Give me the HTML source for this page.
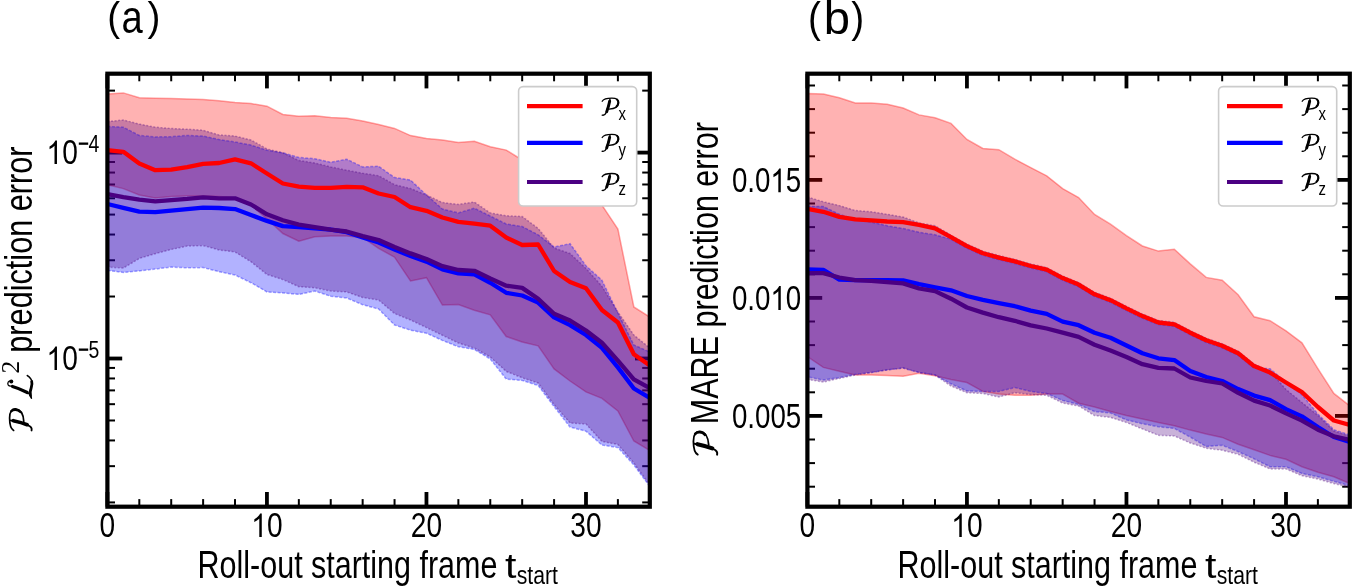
<!DOCTYPE html>
<html><head><meta charset="utf-8"><title>figure</title>
<style>
html,body{margin:0;padding:0;background:#fff;overflow:hidden;}
svg{display:block;will-change:transform;}
text{font-family:"Liberation Sans",sans-serif;fill:#000;font-kerning:none;}
</style></head><body>
<svg width="1352" height="586" viewBox="0 0 1352 586">
<defs>
<clipPath id="ca"><rect x="107.4" y="73.7" width="542.4" height="433.0"/></clipPath>
<clipPath id="cb"><rect x="807.4" y="73.7" width="542.4" height="433.0"/></clipPath>
</defs>
<rect width="1352" height="586" fill="#fff"/>
<line x1="107.40" y1="506.7" x2="107.40" y2="492.00" stroke="#000" stroke-width="3.8"/>
<line x1="107.40" y1="73.7" x2="107.40" y2="88.40" stroke="#000" stroke-width="3.8"/>
<line x1="139.31" y1="506.7" x2="139.31" y2="499.10" stroke="#000" stroke-width="2"/>
<line x1="139.31" y1="73.7" x2="139.31" y2="81.30" stroke="#000" stroke-width="2"/>
<line x1="171.21" y1="506.7" x2="171.21" y2="499.10" stroke="#000" stroke-width="2"/>
<line x1="171.21" y1="73.7" x2="171.21" y2="81.30" stroke="#000" stroke-width="2"/>
<line x1="203.12" y1="506.7" x2="203.12" y2="499.10" stroke="#000" stroke-width="2"/>
<line x1="203.12" y1="73.7" x2="203.12" y2="81.30" stroke="#000" stroke-width="2"/>
<line x1="235.02" y1="506.7" x2="235.02" y2="499.10" stroke="#000" stroke-width="2"/>
<line x1="235.02" y1="73.7" x2="235.02" y2="81.30" stroke="#000" stroke-width="2"/>
<line x1="266.93" y1="506.7" x2="266.93" y2="492.00" stroke="#000" stroke-width="3.8"/>
<line x1="266.93" y1="73.7" x2="266.93" y2="88.40" stroke="#000" stroke-width="3.8"/>
<line x1="298.84" y1="506.7" x2="298.84" y2="499.10" stroke="#000" stroke-width="2"/>
<line x1="298.84" y1="73.7" x2="298.84" y2="81.30" stroke="#000" stroke-width="2"/>
<line x1="330.74" y1="506.7" x2="330.74" y2="499.10" stroke="#000" stroke-width="2"/>
<line x1="330.74" y1="73.7" x2="330.74" y2="81.30" stroke="#000" stroke-width="2"/>
<line x1="362.65" y1="506.7" x2="362.65" y2="499.10" stroke="#000" stroke-width="2"/>
<line x1="362.65" y1="73.7" x2="362.65" y2="81.30" stroke="#000" stroke-width="2"/>
<line x1="394.55" y1="506.7" x2="394.55" y2="499.10" stroke="#000" stroke-width="2"/>
<line x1="394.55" y1="73.7" x2="394.55" y2="81.30" stroke="#000" stroke-width="2"/>
<line x1="426.46" y1="506.7" x2="426.46" y2="492.00" stroke="#000" stroke-width="3.8"/>
<line x1="426.46" y1="73.7" x2="426.46" y2="88.40" stroke="#000" stroke-width="3.8"/>
<line x1="458.36" y1="506.7" x2="458.36" y2="499.10" stroke="#000" stroke-width="2"/>
<line x1="458.36" y1="73.7" x2="458.36" y2="81.30" stroke="#000" stroke-width="2"/>
<line x1="490.27" y1="506.7" x2="490.27" y2="499.10" stroke="#000" stroke-width="2"/>
<line x1="490.27" y1="73.7" x2="490.27" y2="81.30" stroke="#000" stroke-width="2"/>
<line x1="522.18" y1="506.7" x2="522.18" y2="499.10" stroke="#000" stroke-width="2"/>
<line x1="522.18" y1="73.7" x2="522.18" y2="81.30" stroke="#000" stroke-width="2"/>
<line x1="554.08" y1="506.7" x2="554.08" y2="499.10" stroke="#000" stroke-width="2"/>
<line x1="554.08" y1="73.7" x2="554.08" y2="81.30" stroke="#000" stroke-width="2"/>
<line x1="585.99" y1="506.7" x2="585.99" y2="492.00" stroke="#000" stroke-width="3.8"/>
<line x1="585.99" y1="73.7" x2="585.99" y2="88.40" stroke="#000" stroke-width="3.8"/>
<line x1="617.89" y1="506.7" x2="617.89" y2="499.10" stroke="#000" stroke-width="2"/>
<line x1="617.89" y1="73.7" x2="617.89" y2="81.30" stroke="#000" stroke-width="2"/>
<line x1="649.80" y1="506.7" x2="649.80" y2="499.10" stroke="#000" stroke-width="2"/>
<line x1="649.80" y1="73.7" x2="649.80" y2="81.30" stroke="#000" stroke-width="2"/>
<line x1="107.4" y1="152.60" x2="122.20" y2="152.60" stroke="#000" stroke-width="3.8"/>
<line x1="649.8" y1="152.60" x2="635.00" y2="152.60" stroke="#000" stroke-width="3.8"/>
<line x1="107.4" y1="358.50" x2="122.20" y2="358.50" stroke="#000" stroke-width="3.8"/>
<line x1="649.8" y1="358.50" x2="635.00" y2="358.50" stroke="#000" stroke-width="3.8"/>
<line x1="107.4" y1="502.42" x2="115.00" y2="502.42" stroke="#000" stroke-width="2"/>
<line x1="649.8" y1="502.42" x2="642.20" y2="502.42" stroke="#000" stroke-width="2"/>
<line x1="107.4" y1="466.16" x2="115.00" y2="466.16" stroke="#000" stroke-width="2"/>
<line x1="649.8" y1="466.16" x2="642.20" y2="466.16" stroke="#000" stroke-width="2"/>
<line x1="107.4" y1="440.44" x2="115.00" y2="440.44" stroke="#000" stroke-width="2"/>
<line x1="649.8" y1="440.44" x2="642.20" y2="440.44" stroke="#000" stroke-width="2"/>
<line x1="107.4" y1="420.48" x2="115.00" y2="420.48" stroke="#000" stroke-width="2"/>
<line x1="649.8" y1="420.48" x2="642.20" y2="420.48" stroke="#000" stroke-width="2"/>
<line x1="107.4" y1="404.18" x2="115.00" y2="404.18" stroke="#000" stroke-width="2"/>
<line x1="649.8" y1="404.18" x2="642.20" y2="404.18" stroke="#000" stroke-width="2"/>
<line x1="107.4" y1="390.39" x2="115.00" y2="390.39" stroke="#000" stroke-width="2"/>
<line x1="649.8" y1="390.39" x2="642.20" y2="390.39" stroke="#000" stroke-width="2"/>
<line x1="107.4" y1="378.45" x2="115.00" y2="378.45" stroke="#000" stroke-width="2"/>
<line x1="649.8" y1="378.45" x2="642.20" y2="378.45" stroke="#000" stroke-width="2"/>
<line x1="107.4" y1="367.92" x2="115.00" y2="367.92" stroke="#000" stroke-width="2"/>
<line x1="649.8" y1="367.92" x2="642.20" y2="367.92" stroke="#000" stroke-width="2"/>
<line x1="107.4" y1="296.52" x2="115.00" y2="296.52" stroke="#000" stroke-width="2"/>
<line x1="649.8" y1="296.52" x2="642.20" y2="296.52" stroke="#000" stroke-width="2"/>
<line x1="107.4" y1="260.26" x2="115.00" y2="260.26" stroke="#000" stroke-width="2"/>
<line x1="649.8" y1="260.26" x2="642.20" y2="260.26" stroke="#000" stroke-width="2"/>
<line x1="107.4" y1="234.54" x2="115.00" y2="234.54" stroke="#000" stroke-width="2"/>
<line x1="649.8" y1="234.54" x2="642.20" y2="234.54" stroke="#000" stroke-width="2"/>
<line x1="107.4" y1="214.58" x2="115.00" y2="214.58" stroke="#000" stroke-width="2"/>
<line x1="649.8" y1="214.58" x2="642.20" y2="214.58" stroke="#000" stroke-width="2"/>
<line x1="107.4" y1="198.28" x2="115.00" y2="198.28" stroke="#000" stroke-width="2"/>
<line x1="649.8" y1="198.28" x2="642.20" y2="198.28" stroke="#000" stroke-width="2"/>
<line x1="107.4" y1="184.49" x2="115.00" y2="184.49" stroke="#000" stroke-width="2"/>
<line x1="649.8" y1="184.49" x2="642.20" y2="184.49" stroke="#000" stroke-width="2"/>
<line x1="107.4" y1="172.55" x2="115.00" y2="172.55" stroke="#000" stroke-width="2"/>
<line x1="649.8" y1="172.55" x2="642.20" y2="172.55" stroke="#000" stroke-width="2"/>
<line x1="107.4" y1="162.02" x2="115.00" y2="162.02" stroke="#000" stroke-width="2"/>
<line x1="649.8" y1="162.02" x2="642.20" y2="162.02" stroke="#000" stroke-width="2"/>
<line x1="107.4" y1="90.62" x2="115.00" y2="90.62" stroke="#000" stroke-width="2"/>
<line x1="649.8" y1="90.62" x2="642.20" y2="90.62" stroke="#000" stroke-width="2"/>
<g clip-path="url(#ca)">
<path d="M107.40,93.90 L123.35,92.90 L139.31,97.80 L155.26,98.30 L171.21,98.50 L187.16,99.00 L203.12,99.50 L219.07,100.80 L235.02,102.40 L250.98,103.60 L266.93,106.20 L282.88,114.40 L298.84,116.20 L314.79,115.70 L330.74,117.50 L346.69,118.20 L362.65,121.00 L378.60,124.60 L394.55,128.40 L410.51,135.60 L426.46,138.60 L442.41,139.90 L458.36,142.50 L474.32,141.20 L490.27,146.80 L506.22,150.10 L522.18,160.00 L538.13,170.00 L554.08,180.00 L570.04,190.00 L585.99,198.00 L601.94,205.00 L617.89,229.00 L633.85,307.00 L649.80,317.00 L649.80,450.50 L633.85,441.00 L617.89,411.00 L601.94,398.30 L585.99,391.90 L570.04,381.00 L554.08,368.90 L538.13,345.80 L522.18,342.00 L506.22,336.50 L490.27,314.80 L474.32,310.20 L458.36,304.60 L442.41,305.10 L426.46,277.70 L410.51,281.00 L394.55,257.20 L378.60,248.30 L362.65,237.40 L346.69,236.00 L330.74,236.10 L314.79,236.80 L298.84,241.20 L282.88,233.50 L266.93,219.00 L250.98,205.00 L235.02,197.70 L219.07,196.50 L203.12,196.00 L187.16,196.00 L171.21,196.50 L155.26,198.00 L139.31,195.00 L123.35,188.60 L107.40,184.80Z" fill="#ff0000" fill-opacity="0.3" stroke="none"/><path d="M107.40,93.90 L123.35,92.90 L139.31,97.80 L155.26,98.30 L171.21,98.50 L187.16,99.00 L203.12,99.50 L219.07,100.80 L235.02,102.40 L250.98,103.60 L266.93,106.20 L282.88,114.40 L298.84,116.20 L314.79,115.70 L330.74,117.50 L346.69,118.20 L362.65,121.00 L378.60,124.60 L394.55,128.40 L410.51,135.60 L426.46,138.60 L442.41,139.90 L458.36,142.50 L474.32,141.20 L490.27,146.80 L506.22,150.10 L522.18,160.00 L538.13,170.00 L554.08,180.00 L570.04,190.00 L585.99,198.00 L601.94,205.00 L617.89,229.00 L633.85,307.00 L649.80,317.00 L649.80,450.50 L633.85,441.00 L617.89,411.00 L601.94,398.30 L585.99,391.90 L570.04,381.00 L554.08,368.90 L538.13,345.80 L522.18,342.00 L506.22,336.50 L490.27,314.80 L474.32,310.20 L458.36,304.60 L442.41,305.10 L426.46,277.70 L410.51,281.00 L394.55,257.20 L378.60,248.30 L362.65,237.40 L346.69,236.00 L330.74,236.10 L314.79,236.80 L298.84,241.20 L282.88,233.50 L266.93,219.00 L250.98,205.00 L235.02,197.70 L219.07,196.50 L203.12,196.00 L187.16,196.00 L171.21,196.50 L155.26,198.00 L139.31,195.00 L123.35,188.60 L107.40,184.80Z" fill="none" stroke="#ff0000" stroke-opacity="0.34" stroke-width="1.5"/>
<path d="M107.40,126.40 L123.35,127.20 L139.31,135.40 L155.26,136.90 L171.21,136.70 L187.16,135.40 L203.12,136.10 L219.07,139.50 L235.02,142.00 L250.98,145.10 L266.93,150.20 L282.88,152.80 L298.84,157.40 L314.79,158.70 L330.74,162.30 L346.69,159.20 L362.65,166.90 L378.60,166.30 L394.55,177.50 L410.51,180.10 L426.46,195.00 L442.41,209.00 L458.36,212.90 L474.32,208.20 L490.27,216.00 L506.22,224.00 L522.18,226.50 L538.13,234.80 L554.08,247.00 L570.04,243.70 L585.99,265.80 L601.94,280.30 L617.89,313.00 L633.85,345.00 L649.80,352.00 L649.80,486.50 L633.85,465.00 L617.89,447.60 L601.94,445.10 L585.99,431.20 L570.04,427.10 L554.08,406.60 L538.13,385.50 L522.18,380.40 L506.22,379.10 L490.27,359.00 L474.32,349.40 L458.36,346.80 L442.41,340.40 L426.46,333.20 L410.51,330.20 L394.55,325.00 L378.60,309.00 L362.65,304.70 L346.69,298.00 L330.74,296.20 L314.79,291.10 L298.84,294.40 L282.88,292.90 L266.93,291.90 L250.98,282.70 L235.02,275.00 L219.07,271.70 L203.12,267.60 L187.16,267.80 L171.21,267.10 L155.26,269.10 L139.31,270.90 L123.35,272.40 L107.40,270.40Z" fill="#0000ff" fill-opacity="0.3" stroke="none"/><path d="M107.40,126.40 L123.35,127.20 L139.31,135.40 L155.26,136.90 L171.21,136.70 L187.16,135.40 L203.12,136.10 L219.07,139.50 L235.02,142.00 L250.98,145.10 L266.93,150.20 L282.88,152.80 L298.84,157.40 L314.79,158.70 L330.74,162.30 L346.69,159.20 L362.65,166.90 L378.60,166.30 L394.55,177.50 L410.51,180.10 L426.46,195.00 L442.41,209.00 L458.36,212.90 L474.32,208.20 L490.27,216.00 L506.22,224.00 L522.18,226.50 L538.13,234.80 L554.08,247.00 L570.04,243.70 L585.99,265.80 L601.94,280.30 L617.89,313.00 L633.85,345.00 L649.80,352.00 L649.80,486.50 L633.85,465.00 L617.89,447.60 L601.94,445.10 L585.99,431.20 L570.04,427.10 L554.08,406.60 L538.13,385.50 L522.18,380.40 L506.22,379.10 L490.27,359.00 L474.32,349.40 L458.36,346.80 L442.41,340.40 L426.46,333.20 L410.51,330.20 L394.55,325.00 L378.60,309.00 L362.65,304.70 L346.69,298.00 L330.74,296.20 L314.79,291.10 L298.84,294.40 L282.88,292.90 L266.93,291.90 L250.98,282.70 L235.02,275.00 L219.07,271.70 L203.12,267.60 L187.16,267.80 L171.21,267.10 L155.26,269.10 L139.31,270.90 L123.35,272.40 L107.40,270.40Z" fill="none" stroke="#0000ff" stroke-opacity="0.34" stroke-width="1.5" stroke-dasharray="3,1.5"/>
<path d="M107.40,121.60 L123.35,120.00 L139.31,124.10 L155.26,127.20 L171.21,128.50 L187.16,129.20 L203.12,130.30 L219.07,134.90 L235.02,136.10 L250.98,140.00 L266.93,149.00 L282.88,152.80 L298.84,160.50 L314.79,163.00 L330.74,166.90 L346.69,170.20 L362.65,173.30 L378.60,175.70 L394.55,184.70 L410.51,188.50 L426.46,195.00 L442.41,202.60 L458.36,204.40 L474.32,202.10 L490.27,212.90 L506.22,215.80 L522.18,216.50 L538.13,228.40 L554.08,248.00 L570.04,253.50 L585.99,268.40 L601.94,286.30 L617.89,312.00 L633.85,335.00 L649.80,348.00 L649.80,485.00 L633.85,463.00 L617.89,444.50 L601.94,441.40 L585.99,424.00 L570.04,423.00 L554.08,404.60 L538.13,383.00 L522.18,377.80 L506.22,371.40 L490.27,357.00 L474.32,348.10 L458.36,343.00 L442.41,335.30 L426.46,327.60 L410.51,320.00 L394.55,313.50 L378.60,300.00 L362.65,297.50 L346.69,291.90 L330.74,291.10 L314.79,287.80 L298.84,286.70 L282.88,279.60 L266.93,274.50 L250.98,261.70 L235.02,252.00 L219.07,249.90 L203.12,245.60 L187.16,246.10 L171.21,249.40 L155.26,253.70 L139.31,258.40 L123.35,268.10 L107.40,267.10Z" fill="#4b0082" fill-opacity="0.3" stroke="none"/><path d="M107.40,121.60 L123.35,120.00 L139.31,124.10 L155.26,127.20 L171.21,128.50 L187.16,129.20 L203.12,130.30 L219.07,134.90 L235.02,136.10 L250.98,140.00 L266.93,149.00 L282.88,152.80 L298.84,160.50 L314.79,163.00 L330.74,166.90 L346.69,170.20 L362.65,173.30 L378.60,175.70 L394.55,184.70 L410.51,188.50 L426.46,195.00 L442.41,202.60 L458.36,204.40 L474.32,202.10 L490.27,212.90 L506.22,215.80 L522.18,216.50 L538.13,228.40 L554.08,248.00 L570.04,253.50 L585.99,268.40 L601.94,286.30 L617.89,312.00 L633.85,335.00 L649.80,348.00 L649.80,485.00 L633.85,463.00 L617.89,444.50 L601.94,441.40 L585.99,424.00 L570.04,423.00 L554.08,404.60 L538.13,383.00 L522.18,377.80 L506.22,371.40 L490.27,357.00 L474.32,348.10 L458.36,343.00 L442.41,335.30 L426.46,327.60 L410.51,320.00 L394.55,313.50 L378.60,300.00 L362.65,297.50 L346.69,291.90 L330.74,291.10 L314.79,287.80 L298.84,286.70 L282.88,279.60 L266.93,274.50 L250.98,261.70 L235.02,252.00 L219.07,249.90 L203.12,245.60 L187.16,246.10 L171.21,249.40 L155.26,253.70 L139.31,258.40 L123.35,268.10 L107.40,267.10Z" fill="none" stroke="#4b0082" stroke-opacity="0.34" stroke-width="1.5" stroke-dasharray="2,1.6"/>
<polyline points="107.40,150.20 123.35,151.80 139.31,163.50 155.26,170.20 171.21,169.70 187.16,167.10 203.12,163.80 219.07,163.00 235.02,159.40 250.98,163.30 266.93,173.50 282.88,183.50 298.84,186.60 314.79,187.80 330.74,187.80 346.69,186.80 362.65,187.30 378.60,193.50 394.55,197.00 410.51,207.20 426.46,210.80 442.41,217.50 458.36,221.80 474.32,223.60 490.27,225.70 506.22,237.50 522.18,245.00 538.13,244.50 554.08,271.00 570.04,282.00 585.99,288.30 601.94,310.00 617.89,322.50 633.85,354.30 649.80,365.50" fill="none" stroke="#ff0000" stroke-width="4.3" stroke-linejoin="round" stroke-linecap="butt"/>
<polyline points="107.40,204.00 123.35,207.80 139.31,211.70 155.26,212.20 171.21,210.60 187.16,209.10 203.12,207.60 219.07,208.00 235.02,209.10 250.98,215.00 266.93,220.90 282.88,226.10 298.84,227.10 314.79,228.40 330.74,229.70 346.69,232.20 362.65,237.40 378.60,242.50 394.55,249.60 410.51,256.00 426.46,261.60 442.41,269.30 458.36,273.40 474.32,274.40 490.27,282.80 506.22,292.80 522.18,295.50 538.13,302.60 554.08,317.30 570.04,325.10 585.99,335.00 601.94,347.80 617.89,367.40 633.85,388.50 649.80,398.00" fill="none" stroke="#0000ff" stroke-width="4.3" stroke-linejoin="round" stroke-linecap="butt"/>
<polyline points="107.40,194.20 123.35,197.10 139.31,199.60 155.26,201.40 171.21,200.10 187.16,198.90 203.12,197.30 219.07,198.30 235.02,198.30 250.98,204.50 266.93,214.30 282.88,220.20 298.84,224.60 314.79,227.10 330.74,229.70 346.69,231.50 362.65,236.10 378.60,240.00 394.55,247.00 410.51,253.40 426.46,259.00 442.41,266.20 458.36,270.00 474.32,270.80 490.27,278.50 506.22,285.70 522.18,287.90 538.13,298.80 554.08,313.80 570.04,320.50 585.99,330.50 601.94,342.70 617.89,360.60 633.85,379.40 649.80,388.00" fill="none" stroke="#4b0082" stroke-width="4.3" stroke-linejoin="round" stroke-linecap="butt"/>
</g>
<rect x="107.4" y="73.7" width="542.4" height="433.0" fill="none" stroke="#000" stroke-width="4.2" stroke-linejoin="miter"/>
<line x1="807.40" y1="506.7" x2="807.40" y2="492.00" stroke="#000" stroke-width="3.8"/>
<line x1="807.40" y1="73.7" x2="807.40" y2="88.40" stroke="#000" stroke-width="3.8"/>
<line x1="839.31" y1="506.7" x2="839.31" y2="499.10" stroke="#000" stroke-width="2"/>
<line x1="839.31" y1="73.7" x2="839.31" y2="81.30" stroke="#000" stroke-width="2"/>
<line x1="871.21" y1="506.7" x2="871.21" y2="499.10" stroke="#000" stroke-width="2"/>
<line x1="871.21" y1="73.7" x2="871.21" y2="81.30" stroke="#000" stroke-width="2"/>
<line x1="903.12" y1="506.7" x2="903.12" y2="499.10" stroke="#000" stroke-width="2"/>
<line x1="903.12" y1="73.7" x2="903.12" y2="81.30" stroke="#000" stroke-width="2"/>
<line x1="935.02" y1="506.7" x2="935.02" y2="499.10" stroke="#000" stroke-width="2"/>
<line x1="935.02" y1="73.7" x2="935.02" y2="81.30" stroke="#000" stroke-width="2"/>
<line x1="966.93" y1="506.7" x2="966.93" y2="492.00" stroke="#000" stroke-width="3.8"/>
<line x1="966.93" y1="73.7" x2="966.93" y2="88.40" stroke="#000" stroke-width="3.8"/>
<line x1="998.84" y1="506.7" x2="998.84" y2="499.10" stroke="#000" stroke-width="2"/>
<line x1="998.84" y1="73.7" x2="998.84" y2="81.30" stroke="#000" stroke-width="2"/>
<line x1="1030.74" y1="506.7" x2="1030.74" y2="499.10" stroke="#000" stroke-width="2"/>
<line x1="1030.74" y1="73.7" x2="1030.74" y2="81.30" stroke="#000" stroke-width="2"/>
<line x1="1062.65" y1="506.7" x2="1062.65" y2="499.10" stroke="#000" stroke-width="2"/>
<line x1="1062.65" y1="73.7" x2="1062.65" y2="81.30" stroke="#000" stroke-width="2"/>
<line x1="1094.55" y1="506.7" x2="1094.55" y2="499.10" stroke="#000" stroke-width="2"/>
<line x1="1094.55" y1="73.7" x2="1094.55" y2="81.30" stroke="#000" stroke-width="2"/>
<line x1="1126.46" y1="506.7" x2="1126.46" y2="492.00" stroke="#000" stroke-width="3.8"/>
<line x1="1126.46" y1="73.7" x2="1126.46" y2="88.40" stroke="#000" stroke-width="3.8"/>
<line x1="1158.36" y1="506.7" x2="1158.36" y2="499.10" stroke="#000" stroke-width="2"/>
<line x1="1158.36" y1="73.7" x2="1158.36" y2="81.30" stroke="#000" stroke-width="2"/>
<line x1="1190.27" y1="506.7" x2="1190.27" y2="499.10" stroke="#000" stroke-width="2"/>
<line x1="1190.27" y1="73.7" x2="1190.27" y2="81.30" stroke="#000" stroke-width="2"/>
<line x1="1222.18" y1="506.7" x2="1222.18" y2="499.10" stroke="#000" stroke-width="2"/>
<line x1="1222.18" y1="73.7" x2="1222.18" y2="81.30" stroke="#000" stroke-width="2"/>
<line x1="1254.08" y1="506.7" x2="1254.08" y2="499.10" stroke="#000" stroke-width="2"/>
<line x1="1254.08" y1="73.7" x2="1254.08" y2="81.30" stroke="#000" stroke-width="2"/>
<line x1="1285.99" y1="506.7" x2="1285.99" y2="492.00" stroke="#000" stroke-width="3.8"/>
<line x1="1285.99" y1="73.7" x2="1285.99" y2="88.40" stroke="#000" stroke-width="3.8"/>
<line x1="1317.89" y1="506.7" x2="1317.89" y2="499.10" stroke="#000" stroke-width="2"/>
<line x1="1317.89" y1="73.7" x2="1317.89" y2="81.30" stroke="#000" stroke-width="2"/>
<line x1="1349.80" y1="506.7" x2="1349.80" y2="499.10" stroke="#000" stroke-width="2"/>
<line x1="1349.80" y1="73.7" x2="1349.80" y2="81.30" stroke="#000" stroke-width="2"/>
<line x1="807.4" y1="415.90" x2="822.20" y2="415.90" stroke="#000" stroke-width="3.8"/>
<line x1="1349.8" y1="415.90" x2="1335.00" y2="415.90" stroke="#000" stroke-width="3.8"/>
<line x1="807.4" y1="297.90" x2="822.20" y2="297.90" stroke="#000" stroke-width="3.8"/>
<line x1="1349.8" y1="297.90" x2="1335.00" y2="297.90" stroke="#000" stroke-width="3.8"/>
<line x1="807.4" y1="179.90" x2="822.20" y2="179.90" stroke="#000" stroke-width="3.8"/>
<line x1="1349.8" y1="179.90" x2="1335.00" y2="179.90" stroke="#000" stroke-width="3.8"/>
<line x1="807.4" y1="486.70" x2="815.00" y2="486.70" stroke="#000" stroke-width="2"/>
<line x1="1349.8" y1="486.70" x2="1342.20" y2="486.70" stroke="#000" stroke-width="2"/>
<line x1="807.4" y1="463.10" x2="815.00" y2="463.10" stroke="#000" stroke-width="2"/>
<line x1="1349.8" y1="463.10" x2="1342.20" y2="463.10" stroke="#000" stroke-width="2"/>
<line x1="807.4" y1="439.50" x2="815.00" y2="439.50" stroke="#000" stroke-width="2"/>
<line x1="1349.8" y1="439.50" x2="1342.20" y2="439.50" stroke="#000" stroke-width="2"/>
<line x1="807.4" y1="392.30" x2="815.00" y2="392.30" stroke="#000" stroke-width="2"/>
<line x1="1349.8" y1="392.30" x2="1342.20" y2="392.30" stroke="#000" stroke-width="2"/>
<line x1="807.4" y1="368.70" x2="815.00" y2="368.70" stroke="#000" stroke-width="2"/>
<line x1="1349.8" y1="368.70" x2="1342.20" y2="368.70" stroke="#000" stroke-width="2"/>
<line x1="807.4" y1="345.10" x2="815.00" y2="345.10" stroke="#000" stroke-width="2"/>
<line x1="1349.8" y1="345.10" x2="1342.20" y2="345.10" stroke="#000" stroke-width="2"/>
<line x1="807.4" y1="321.50" x2="815.00" y2="321.50" stroke="#000" stroke-width="2"/>
<line x1="1349.8" y1="321.50" x2="1342.20" y2="321.50" stroke="#000" stroke-width="2"/>
<line x1="807.4" y1="274.30" x2="815.00" y2="274.30" stroke="#000" stroke-width="2"/>
<line x1="1349.8" y1="274.30" x2="1342.20" y2="274.30" stroke="#000" stroke-width="2"/>
<line x1="807.4" y1="250.70" x2="815.00" y2="250.70" stroke="#000" stroke-width="2"/>
<line x1="1349.8" y1="250.70" x2="1342.20" y2="250.70" stroke="#000" stroke-width="2"/>
<line x1="807.4" y1="227.10" x2="815.00" y2="227.10" stroke="#000" stroke-width="2"/>
<line x1="1349.8" y1="227.10" x2="1342.20" y2="227.10" stroke="#000" stroke-width="2"/>
<line x1="807.4" y1="203.50" x2="815.00" y2="203.50" stroke="#000" stroke-width="2"/>
<line x1="1349.8" y1="203.50" x2="1342.20" y2="203.50" stroke="#000" stroke-width="2"/>
<line x1="807.4" y1="156.30" x2="815.00" y2="156.30" stroke="#000" stroke-width="2"/>
<line x1="1349.8" y1="156.30" x2="1342.20" y2="156.30" stroke="#000" stroke-width="2"/>
<line x1="807.4" y1="132.70" x2="815.00" y2="132.70" stroke="#000" stroke-width="2"/>
<line x1="1349.8" y1="132.70" x2="1342.20" y2="132.70" stroke="#000" stroke-width="2"/>
<line x1="807.4" y1="109.10" x2="815.00" y2="109.10" stroke="#000" stroke-width="2"/>
<line x1="1349.8" y1="109.10" x2="1342.20" y2="109.10" stroke="#000" stroke-width="2"/>
<line x1="807.4" y1="85.50" x2="815.00" y2="85.50" stroke="#000" stroke-width="2"/>
<line x1="1349.8" y1="85.50" x2="1342.20" y2="85.50" stroke="#000" stroke-width="2"/>
<g clip-path="url(#cb)">
<path d="M807.40,93.40 L823.35,93.90 L839.31,97.80 L855.26,102.90 L871.21,103.10 L887.16,104.20 L903.12,108.00 L919.07,114.90 L935.02,117.70 L950.98,123.40 L966.93,139.50 L982.88,148.40 L998.84,149.70 L1014.79,159.20 L1030.74,167.60 L1046.69,175.80 L1062.65,188.60 L1078.60,197.50 L1094.55,214.50 L1110.51,224.20 L1126.46,235.70 L1142.41,246.00 L1158.36,251.10 L1174.32,249.30 L1190.27,263.90 L1206.22,277.40 L1222.18,280.20 L1238.13,294.70 L1254.08,316.80 L1270.04,320.70 L1285.99,330.80 L1301.94,342.80 L1317.89,368.70 L1333.85,393.40 L1349.80,405.80 L1349.80,483.60 L1333.85,476.80 L1317.89,472.30 L1301.94,466.70 L1285.99,459.30 L1270.04,455.40 L1254.08,449.80 L1238.13,444.20 L1222.18,437.40 L1206.22,434.00 L1190.27,430.10 L1174.32,425.80 L1158.36,422.50 L1142.41,419.10 L1126.46,415.60 L1110.51,411.50 L1094.55,407.10 L1078.60,403.20 L1062.65,394.00 L1046.69,394.00 L1030.74,395.30 L1014.79,395.30 L998.84,394.00 L982.88,391.40 L966.93,382.50 L950.98,379.50 L935.02,375.80 L919.07,373.20 L903.12,376.30 L887.16,375.50 L871.21,375.00 L855.26,375.00 L839.31,371.20 L823.35,367.40 L807.40,356.50Z" fill="#ff0000" fill-opacity="0.3" stroke="none"/><path d="M807.40,93.40 L823.35,93.90 L839.31,97.80 L855.26,102.90 L871.21,103.10 L887.16,104.20 L903.12,108.00 L919.07,114.90 L935.02,117.70 L950.98,123.40 L966.93,139.50 L982.88,148.40 L998.84,149.70 L1014.79,159.20 L1030.74,167.60 L1046.69,175.80 L1062.65,188.60 L1078.60,197.50 L1094.55,214.50 L1110.51,224.20 L1126.46,235.70 L1142.41,246.00 L1158.36,251.10 L1174.32,249.30 L1190.27,263.90 L1206.22,277.40 L1222.18,280.20 L1238.13,294.70 L1254.08,316.80 L1270.04,320.70 L1285.99,330.80 L1301.94,342.80 L1317.89,368.70 L1333.85,393.40 L1349.80,405.80 L1349.80,483.60 L1333.85,476.80 L1317.89,472.30 L1301.94,466.70 L1285.99,459.30 L1270.04,455.40 L1254.08,449.80 L1238.13,444.20 L1222.18,437.40 L1206.22,434.00 L1190.27,430.10 L1174.32,425.80 L1158.36,422.50 L1142.41,419.10 L1126.46,415.60 L1110.51,411.50 L1094.55,407.10 L1078.60,403.20 L1062.65,394.00 L1046.69,394.00 L1030.74,395.30 L1014.79,395.30 L998.84,394.00 L982.88,391.40 L966.93,382.50 L950.98,379.50 L935.02,375.80 L919.07,373.20 L903.12,376.30 L887.16,375.50 L871.21,375.00 L855.26,375.00 L839.31,371.20 L823.35,367.40 L807.40,356.50Z" fill="none" stroke="#ff0000" stroke-opacity="0.34" stroke-width="1.5"/>
<path d="M807.40,206.30 L823.35,206.60 L839.31,214.30 L855.26,219.40 L871.21,222.00 L887.16,225.80 L903.12,228.40 L919.07,232.20 L935.02,234.80 L950.98,239.20 L966.93,248.10 L982.88,255.20 L998.84,259.60 L1014.79,263.40 L1030.74,268.00 L1046.69,271.60 L1062.65,280.10 L1078.60,286.60 L1094.55,296.30 L1110.51,302.20 L1126.46,310.40 L1142.41,318.10 L1158.36,324.50 L1174.32,326.30 L1190.27,334.70 L1206.22,342.30 L1222.18,347.80 L1238.13,355.20 L1254.08,368.10 L1270.04,368.70 L1285.99,382.50 L1301.94,394.70 L1317.89,414.00 L1333.85,429.70 L1349.80,434.90 L1349.80,485.80 L1333.85,481.30 L1317.89,476.80 L1301.94,473.40 L1285.99,466.70 L1270.04,466.70 L1254.08,458.80 L1238.13,451.60 L1222.18,445.30 L1206.22,446.40 L1190.27,437.10 L1174.32,428.40 L1158.36,426.80 L1142.41,423.70 L1126.46,419.90 L1110.51,413.00 L1094.55,411.50 L1078.60,404.50 L1062.65,400.40 L1046.69,393.50 L1030.74,391.40 L1014.79,387.60 L998.84,391.40 L982.88,391.40 L966.93,390.90 L950.98,383.80 L935.02,375.00 L919.07,372.50 L903.12,368.10 L887.16,369.90 L871.21,372.50 L855.26,374.30 L839.31,377.60 L823.35,380.10 L807.40,376.80Z" fill="#0000ff" fill-opacity="0.3" stroke="none"/><path d="M807.40,206.30 L823.35,206.60 L839.31,214.30 L855.26,219.40 L871.21,222.00 L887.16,225.80 L903.12,228.40 L919.07,232.20 L935.02,234.80 L950.98,239.20 L966.93,248.10 L982.88,255.20 L998.84,259.60 L1014.79,263.40 L1030.74,268.00 L1046.69,271.60 L1062.65,280.10 L1078.60,286.60 L1094.55,296.30 L1110.51,302.20 L1126.46,310.40 L1142.41,318.10 L1158.36,324.50 L1174.32,326.30 L1190.27,334.70 L1206.22,342.30 L1222.18,347.80 L1238.13,355.20 L1254.08,368.10 L1270.04,368.70 L1285.99,382.50 L1301.94,394.70 L1317.89,414.00 L1333.85,429.70 L1349.80,434.90 L1349.80,485.80 L1333.85,481.30 L1317.89,476.80 L1301.94,473.40 L1285.99,466.70 L1270.04,466.70 L1254.08,458.80 L1238.13,451.60 L1222.18,445.30 L1206.22,446.40 L1190.27,437.10 L1174.32,428.40 L1158.36,426.80 L1142.41,423.70 L1126.46,419.90 L1110.51,413.00 L1094.55,411.50 L1078.60,404.50 L1062.65,400.40 L1046.69,393.50 L1030.74,391.40 L1014.79,387.60 L998.84,391.40 L982.88,391.40 L966.93,390.90 L950.98,383.80 L935.02,375.00 L919.07,372.50 L903.12,368.10 L887.16,369.90 L871.21,372.50 L855.26,374.30 L839.31,377.60 L823.35,380.10 L807.40,376.80Z" fill="none" stroke="#0000ff" stroke-opacity="0.34" stroke-width="1.5" stroke-dasharray="3,1.5"/>
<path d="M807.40,197.00 L823.35,201.80 L839.31,205.60 L855.26,210.50 L871.21,211.80 L887.16,214.30 L903.12,217.10 L919.07,223.00 L935.02,225.80 L950.98,235.20 L966.93,244.10 L982.88,251.20 L998.84,255.60 L1014.79,259.40 L1030.74,264.00 L1046.69,267.60 L1062.65,276.10 L1078.60,282.60 L1094.55,292.30 L1110.51,298.20 L1126.46,306.40 L1142.41,314.10 L1158.36,320.50 L1174.32,322.30 L1190.27,330.70 L1206.22,338.30 L1222.18,343.80 L1238.13,351.20 L1254.08,364.10 L1270.04,371.30 L1285.99,389.50 L1301.94,402.50 L1317.89,415.40 L1333.85,431.00 L1349.80,436.20 L1349.80,487.00 L1333.85,483.60 L1317.89,479.10 L1301.94,475.70 L1285.99,468.90 L1270.04,468.90 L1254.08,462.20 L1238.13,454.30 L1222.18,450.30 L1206.22,448.20 L1190.27,443.00 L1174.32,436.00 L1158.36,435.30 L1142.41,428.90 L1126.46,422.50 L1110.51,417.40 L1094.55,415.60 L1078.60,406.00 L1062.65,403.00 L1046.69,395.30 L1030.74,394.50 L1014.79,392.70 L998.84,397.00 L982.88,393.50 L966.93,392.70 L950.98,386.00 L935.02,375.00 L919.07,372.50 L903.12,368.10 L887.16,369.90 L871.21,372.50 L855.26,375.00 L839.31,378.40 L823.35,382.00 L807.40,379.40Z" fill="#4b0082" fill-opacity="0.3" stroke="none"/><path d="M807.40,197.00 L823.35,201.80 L839.31,205.60 L855.26,210.50 L871.21,211.80 L887.16,214.30 L903.12,217.10 L919.07,223.00 L935.02,225.80 L950.98,235.20 L966.93,244.10 L982.88,251.20 L998.84,255.60 L1014.79,259.40 L1030.74,264.00 L1046.69,267.60 L1062.65,276.10 L1078.60,282.60 L1094.55,292.30 L1110.51,298.20 L1126.46,306.40 L1142.41,314.10 L1158.36,320.50 L1174.32,322.30 L1190.27,330.70 L1206.22,338.30 L1222.18,343.80 L1238.13,351.20 L1254.08,364.10 L1270.04,371.30 L1285.99,389.50 L1301.94,402.50 L1317.89,415.40 L1333.85,431.00 L1349.80,436.20 L1349.80,487.00 L1333.85,483.60 L1317.89,479.10 L1301.94,475.70 L1285.99,468.90 L1270.04,468.90 L1254.08,462.20 L1238.13,454.30 L1222.18,450.30 L1206.22,448.20 L1190.27,443.00 L1174.32,436.00 L1158.36,435.30 L1142.41,428.90 L1126.46,422.50 L1110.51,417.40 L1094.55,415.60 L1078.60,406.00 L1062.65,403.00 L1046.69,395.30 L1030.74,394.50 L1014.79,392.70 L998.84,397.00 L982.88,393.50 L966.93,392.70 L950.98,386.00 L935.02,375.00 L919.07,372.50 L903.12,368.10 L887.16,369.90 L871.21,372.50 L855.26,375.00 L839.31,378.40 L823.35,382.00 L807.40,379.40Z" fill="none" stroke="#4b0082" stroke-opacity="0.34" stroke-width="1.5" stroke-dasharray="2,1.6"/>
<polyline points="807.40,208.90 823.35,211.80 839.31,216.90 855.26,219.40 871.21,220.40 887.16,221.50 903.12,222.20 919.07,224.90 935.02,228.40 950.98,237.20 966.93,246.10 982.88,253.20 998.84,257.60 1014.79,261.40 1030.74,266.00 1046.69,269.60 1062.65,278.10 1078.60,284.60 1094.55,294.30 1110.51,300.20 1126.46,308.40 1142.41,316.10 1158.36,322.50 1174.32,324.30 1190.27,332.70 1206.22,340.30 1222.18,345.80 1238.13,353.20 1254.08,366.10 1270.04,372.60 1285.99,382.50 1301.94,392.20 1317.89,407.00 1333.85,420.50 1349.80,424.80" fill="none" stroke="#ff0000" stroke-width="4.3" stroke-linejoin="round" stroke-linecap="butt"/>
<polyline points="807.40,269.30 823.35,269.90 839.31,279.60 855.26,280.10 871.21,280.10 887.16,280.10 903.12,280.40 919.07,284.20 935.02,287.30 950.98,290.30 966.93,296.00 982.88,299.80 998.84,303.10 1014.79,306.20 1030.74,310.60 1046.69,313.90 1062.65,321.60 1078.60,325.20 1094.55,332.70 1110.51,337.80 1126.46,345.50 1142.41,353.20 1158.36,358.30 1174.32,360.10 1190.27,371.10 1206.22,377.00 1222.18,381.00 1238.13,389.10 1254.08,395.60 1270.04,400.10 1285.99,409.10 1301.94,416.40 1317.89,427.00 1333.85,437.00 1349.80,441.90" fill="none" stroke="#0000ff" stroke-width="4.3" stroke-linejoin="round" stroke-linecap="butt"/>
<polyline points="807.40,273.20 823.35,273.20 839.31,277.50 855.26,280.10 871.21,280.90 887.16,282.10 903.12,283.40 919.07,288.50 935.02,291.10 950.98,298.70 966.93,307.50 982.88,312.60 998.84,317.20 1014.79,320.80 1030.74,325.40 1046.69,328.50 1062.65,332.60 1078.60,336.90 1094.55,344.70 1110.51,350.60 1126.46,357.00 1142.41,364.20 1158.36,367.80 1174.32,368.50 1190.27,377.50 1206.22,381.00 1222.18,383.50 1238.13,392.80 1254.08,400.60 1270.04,405.50 1285.99,413.40 1301.94,420.60 1317.89,429.70 1333.85,436.30 1349.80,439.90" fill="none" stroke="#4b0082" stroke-width="4.3" stroke-linejoin="round" stroke-linecap="butt"/>
</g>
<rect x="807.4" y="73.7" width="542.4" height="433.0" fill="none" stroke="#000" stroke-width="4.2" stroke-linejoin="miter"/>
<rect x="518.6" y="86.6" width="118.1" height="119.4" rx="4.5" ry="4.5" fill="#fff" stroke="#cccccc" stroke-width="1.6"/>
<line x1="527.0" y1="106.2" x2="582.6" y2="106.2" stroke="#ff0000" stroke-width="4.2"/>
<g transform="translate(601.80,97.90) scale(1.000)" fill="none" stroke="#000" stroke-linecap="round" stroke-linejoin="round"><path d="M0.4,3.4 C1.6,1.3 5,0.3 10,0.3 C15,0.3 17.3,2.2 17,5 C16.6,8.6 12.8,10.9 7.4,11.2" stroke-width="1.3"/><path d="M15.2,1.6 C16.8,3 16.9,6.5 14.6,8.6" stroke-width="1.9"/><path d="M8.2,1.2 C7.2,6 5.6,11.5 4.4,14.6 C3.5,16.8 2,17.6 0.4,17.2" stroke-width="1.4"/><path d="M7.9,3.2 C7.1,7 6,11 4.9,13.8" stroke-width="2.9"/></g>
<text transform="translate(618.50,119.50) scale(0.81,1)" style="font-size:18.4px">x</text>
<line x1="527.0" y1="142.8" x2="582.6" y2="142.8" stroke="#0000ff" stroke-width="4.2"/>
<g transform="translate(601.80,134.10) scale(1.000)" fill="none" stroke="#000" stroke-linecap="round" stroke-linejoin="round"><path d="M0.4,3.4 C1.6,1.3 5,0.3 10,0.3 C15,0.3 17.3,2.2 17,5 C16.6,8.6 12.8,10.9 7.4,11.2" stroke-width="1.3"/><path d="M15.2,1.6 C16.8,3 16.9,6.5 14.6,8.6" stroke-width="1.9"/><path d="M8.2,1.2 C7.2,6 5.6,11.5 4.4,14.6 C3.5,16.8 2,17.6 0.4,17.2" stroke-width="1.4"/><path d="M7.9,3.2 C7.1,7 6,11 4.9,13.8" stroke-width="2.9"/></g>
<text transform="translate(618.50,155.70) scale(0.81,1)" style="font-size:18.4px">y</text>
<line x1="527.0" y1="182.0" x2="582.6" y2="182.0" stroke="#4b0082" stroke-width="4.2"/>
<g transform="translate(601.80,173.20) scale(1.000)" fill="none" stroke="#000" stroke-linecap="round" stroke-linejoin="round"><path d="M0.4,3.4 C1.6,1.3 5,0.3 10,0.3 C15,0.3 17.3,2.2 17,5 C16.6,8.6 12.8,10.9 7.4,11.2" stroke-width="1.3"/><path d="M15.2,1.6 C16.8,3 16.9,6.5 14.6,8.6" stroke-width="1.9"/><path d="M8.2,1.2 C7.2,6 5.6,11.5 4.4,14.6 C3.5,16.8 2,17.6 0.4,17.2" stroke-width="1.4"/><path d="M7.9,3.2 C7.1,7 6,11 4.9,13.8" stroke-width="2.9"/></g>
<text transform="translate(618.50,194.80) scale(0.81,1)" style="font-size:18.4px">z</text>
<rect x="1218.6" y="86.6" width="118.1" height="119.4" rx="4.5" ry="4.5" fill="#fff" stroke="#cccccc" stroke-width="1.6"/>
<line x1="1227.0" y1="106.2" x2="1282.6" y2="106.2" stroke="#ff0000" stroke-width="4.2"/>
<g transform="translate(1301.80,97.90) scale(1.000)" fill="none" stroke="#000" stroke-linecap="round" stroke-linejoin="round"><path d="M0.4,3.4 C1.6,1.3 5,0.3 10,0.3 C15,0.3 17.3,2.2 17,5 C16.6,8.6 12.8,10.9 7.4,11.2" stroke-width="1.3"/><path d="M15.2,1.6 C16.8,3 16.9,6.5 14.6,8.6" stroke-width="1.9"/><path d="M8.2,1.2 C7.2,6 5.6,11.5 4.4,14.6 C3.5,16.8 2,17.6 0.4,17.2" stroke-width="1.4"/><path d="M7.9,3.2 C7.1,7 6,11 4.9,13.8" stroke-width="2.9"/></g>
<text transform="translate(1318.50,119.50) scale(0.81,1)" style="font-size:18.4px">x</text>
<line x1="1227.0" y1="142.8" x2="1282.6" y2="142.8" stroke="#0000ff" stroke-width="4.2"/>
<g transform="translate(1301.80,134.10) scale(1.000)" fill="none" stroke="#000" stroke-linecap="round" stroke-linejoin="round"><path d="M0.4,3.4 C1.6,1.3 5,0.3 10,0.3 C15,0.3 17.3,2.2 17,5 C16.6,8.6 12.8,10.9 7.4,11.2" stroke-width="1.3"/><path d="M15.2,1.6 C16.8,3 16.9,6.5 14.6,8.6" stroke-width="1.9"/><path d="M8.2,1.2 C7.2,6 5.6,11.5 4.4,14.6 C3.5,16.8 2,17.6 0.4,17.2" stroke-width="1.4"/><path d="M7.9,3.2 C7.1,7 6,11 4.9,13.8" stroke-width="2.9"/></g>
<text transform="translate(1318.50,155.70) scale(0.81,1)" style="font-size:18.4px">y</text>
<line x1="1227.0" y1="182.0" x2="1282.6" y2="182.0" stroke="#4b0082" stroke-width="4.2"/>
<g transform="translate(1301.80,173.20) scale(1.000)" fill="none" stroke="#000" stroke-linecap="round" stroke-linejoin="round"><path d="M0.4,3.4 C1.6,1.3 5,0.3 10,0.3 C15,0.3 17.3,2.2 17,5 C16.6,8.6 12.8,10.9 7.4,11.2" stroke-width="1.3"/><path d="M15.2,1.6 C16.8,3 16.9,6.5 14.6,8.6" stroke-width="1.9"/><path d="M8.2,1.2 C7.2,6 5.6,11.5 4.4,14.6 C3.5,16.8 2,17.6 0.4,17.2" stroke-width="1.4"/><path d="M7.9,3.2 C7.1,7 6,11 4.9,13.8" stroke-width="2.9"/></g>
<text transform="translate(1318.50,194.80) scale(0.81,1)" style="font-size:18.4px">z</text>
<text transform="translate(107.20,31.30) scale(0.9300,1)" style="font-size:41.54px">(</text>
<text transform="translate(121.40,32.95) scale(0.8250,1)" style="font-size:46.26px">a</text>
<text transform="translate(147.40,31.30) scale(0.9300,1)" style="font-size:41.54px">)</text>
<text transform="translate(808.00,32.08) scale(0.9300,1)" style="font-size:41.65px">(</text>
<text transform="translate(823.76,33.75) scale(1.0200,1)" style="font-size:46.26px">b</text>
<text transform="translate(851.20,32.08) scale(0.9300,1)" style="font-size:41.65px">)</text>
<text transform="translate(99.58,537.00) scale(0.8200,1)" style="font-size:34.30px">0</text>
<text transform="translate(251.29,537.00) scale(0.8200,1)" style="font-size:34.30px"> 0</text><path transform="translate(251.29,537.00) scale(0.01373,-0.01675)" d="M763,0 L583,0 L583,1098 Q518,1038 412,979 Q306,920 222,890 L222,1057 Q373,1124 486,1221 Q599,1318 646,1409 L763,1409 Z"/>
<text transform="translate(410.82,537.00) scale(0.8200,1)" style="font-size:34.30px">20</text>
<text transform="translate(570.35,537.00) scale(0.8200,1)" style="font-size:34.30px">30</text>
<text transform="translate(197.60,578.10) scale(0.7857,1)" style="font-size:38.80px">Roll-out starting frame</text>
<text transform="translate(504.90,578.30) scale(1.2000,1)" style="font-size:34.25px">t</text>
<text transform="translate(516.70,583.70) scale(0.8000,1)" style="font-size:26.50px">start</text>
<text transform="translate(799.58,537.00) scale(0.8200,1)" style="font-size:34.30px">0</text>
<text transform="translate(951.29,537.00) scale(0.8200,1)" style="font-size:34.30px"> 0</text><path transform="translate(951.29,537.00) scale(0.01373,-0.01675)" d="M763,0 L583,0 L583,1098 Q518,1038 412,979 Q306,920 222,890 L222,1057 Q373,1124 486,1221 Q599,1318 646,1409 L763,1409 Z"/>
<text transform="translate(1110.82,537.00) scale(0.8200,1)" style="font-size:34.30px">20</text>
<text transform="translate(1270.35,537.00) scale(0.8200,1)" style="font-size:34.30px">30</text>
<text transform="translate(897.60,578.10) scale(0.7857,1)" style="font-size:38.80px">Roll-out starting frame</text>
<text transform="translate(1204.90,578.30) scale(1.2000,1)" style="font-size:34.25px">t</text>
<text transform="translate(1216.70,583.70) scale(0.8000,1)" style="font-size:26.50px">start</text>
<text transform="translate(46.50,164.10) scale(0.8200,1)" style="font-size:34.30px"> 0</text><path transform="translate(46.50,164.10) scale(0.01373,-0.01675)" d="M763,0 L583,0 L583,1098 Q518,1038 412,979 Q306,920 222,890 L222,1057 Q373,1124 486,1221 Q599,1318 646,1409 L763,1409 Z"/>
<rect x="78.8" y="142.50" width="9.4" height="2.3" fill="#000"/>
<text transform="translate(88.55,152.10) scale(0.7900,1)" style="font-size:24.60px">4</text>
<text transform="translate(46.50,370.10) scale(0.8200,1)" style="font-size:34.30px"> 0</text><path transform="translate(46.50,370.10) scale(0.01373,-0.01675)" d="M763,0 L583,0 L583,1098 Q518,1038 412,979 Q306,920 222,890 L222,1057 Q373,1124 486,1221 Q599,1318 646,1409 L763,1409 Z"/>
<rect x="78.8" y="348.50" width="9.4" height="2.3" fill="#000"/>
<text transform="translate(88.55,358.10) scale(0.7900,1)" style="font-size:24.60px">5</text>
<text transform="translate(731.92,427.66) scale(0.7879,1)" style="font-size:35.17px">0.005</text>
<text transform="translate(731.92,309.96) scale(0.7975,1)" style="font-size:34.75px">0.0 0</text><path transform="translate(770.44,309.96) scale(0.01353,-0.01697)" d="M763,0 L583,0 L583,1098 Q518,1038 412,979 Q306,920 222,890 L222,1057 Q373,1124 486,1221 Q599,1318 646,1409 L763,1409 Z"/>
<text transform="translate(731.92,192.16) scale(0.8041,1)" style="font-size:34.46px">0.0 5</text><path transform="translate(770.44,192.16) scale(0.01353,-0.01683)" d="M763,0 L583,0 L583,1098 Q518,1038 412,979 Q306,920 222,890 L222,1057 Q373,1124 486,1221 Q599,1318 646,1409 L763,1409 Z"/>
<text transform="translate(32.30,352.70) rotate(-90) scale(0.7906,1)" style="font-size:38.80px">prediction error</text>
<g transform="translate(9.20,431.00) rotate(-90) scale(1.300)" fill="none" stroke="#000" stroke-linecap="round" stroke-linejoin="round"><path d="M0.4,3.4 C1.6,1.3 5,0.3 10,0.3 C15,0.3 17.3,2.2 17,5 C16.6,8.6 12.8,10.9 7.4,11.2" stroke-width="1.3"/><path d="M15.2,1.6 C16.8,3 16.9,6.5 14.6,8.6" stroke-width="1.9"/><path d="M8.2,1.2 C7.2,6 5.6,11.5 4.4,14.6 C3.5,16.8 2,17.6 0.4,17.2" stroke-width="1.4"/><path d="M7.9,3.2 C7.1,7 6,11 4.9,13.8" stroke-width="2.9"/></g>
<g transform="translate(7.30,398.50) rotate(-90) scale(1.000)" fill="none" stroke="#000" stroke-linecap="round" stroke-linejoin="round"><path d="M17.6,3.6 C18.2,1.2 15.5,-0.3 13.4,1 C12.6,1.6 12.4,2.6 12.3,3.5 C11.5,8 8.5,15 5.5,20.5 C4.5,22.5 2.5,24 0.3,24.2" stroke-width="1.3"/><path d="M12,5.2 C10.8,9.5 8.5,15 6,20" stroke-width="3.2"/><path d="M0.6,24 C4,22.2 8,22.6 11,23.8 C14,25 17.5,25 19.5,23.6 C21.3,22.4 22.4,21.2 23,19.9" stroke-width="1.4"/><path d="M3,23.2 C6,22.6 9,23.2 11.5,24.1 C13.5,24.8 15.5,24.8 17,24.4" stroke-width="2.8"/><circle cx="17.0" cy="4.0" r="2.0" fill="#000" stroke="none"/></g>
<text transform="translate(18.9,373.4) rotate(-90)" style="font-family:'Liberation Serif',serif;font-size:25.5px">2</text>
<text transform="translate(718.20,424.20) rotate(-90) scale(0.7870,1)" style="font-size:38.80px">MARE prediction error</text>
<g transform="translate(693.00,455.20) rotate(-90) scale(1.400)" fill="none" stroke="#000" stroke-linecap="round" stroke-linejoin="round"><path d="M0.4,3.4 C1.6,1.3 5,0.3 10,0.3 C15,0.3 17.3,2.2 17,5 C16.6,8.6 12.8,10.9 7.4,11.2" stroke-width="1.3"/><path d="M15.2,1.6 C16.8,3 16.9,6.5 14.6,8.6" stroke-width="1.9"/><path d="M8.2,1.2 C7.2,6 5.6,11.5 4.4,14.6 C3.5,16.8 2,17.6 0.4,17.2" stroke-width="1.4"/><path d="M7.9,3.2 C7.1,7 6,11 4.9,13.8" stroke-width="2.9"/></g>
</svg>
</body></html>
